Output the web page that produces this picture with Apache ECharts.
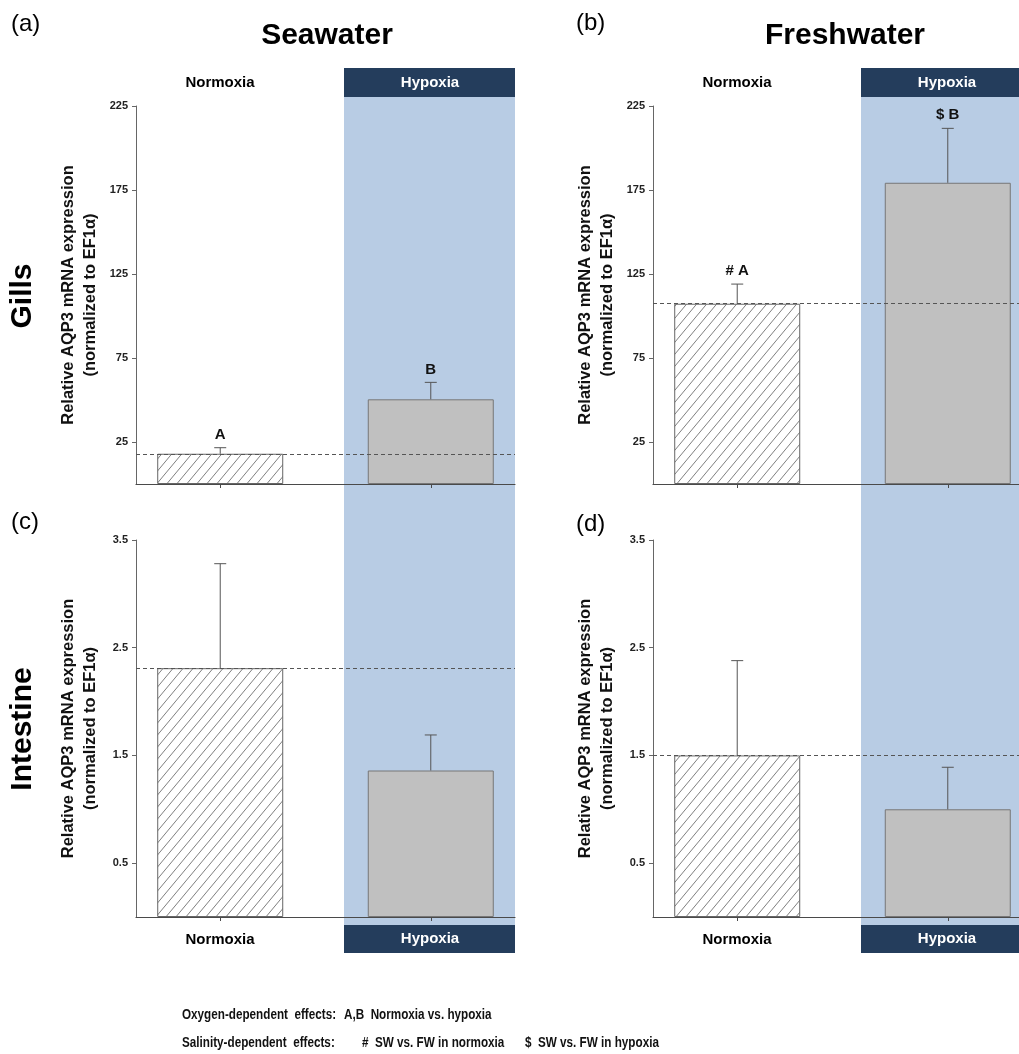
<!DOCTYPE html>
<html><head><meta charset="utf-8">
<script src="https://cdn.jsdelivr.net/npm/echarts@6.0.0/dist/echarts.min.js"></script>
<style>html,body{margin:0;padding:0;background:#fff}#c{width:1019px;height:1054px}</style>
</head><body><div id="c"></div>
<script>
// ---- data ----
const categories = ['Normoxia', 'Hypoxia'];
const xPositions = [1, 2];
const gillsSW = [18.0, 50.4];
const gillsSWSem = [3.6, 10.1];
const gillsSWSig = ['A', 'B'];
const gillsFW = [107.3, 179.3];
const gillsFWSem = [11.7, 32.4];
const gillsFWSig = ['# A', '$ B'];
const intSW = [2.31, 1.36];
const intSWSem = [0.97, 0.33];
const intSWSig = ['', ''];
const intFW = [1.50, 1.00];
const intFWSem = [0.88, 0.39];
const intFWSig = ['', ''];
const gillsTicks = [25, 75, 125, 175, 225];
const intTicks = [0.5, 1.5, 2.5, 3.5];
const yTitle = 'Relative AQP3 mRNA expression\n(normalized to EF1\u03B1)';

// ---- style helpers ----
const FONT = '"Liberation Sans", Arial, sans-serif';
const NAVY = '#243d5c';
const BAND = '#b8cce4';

function hatchCanvas() {
  const w = 10, h = 12;
  const c = document.createElement('canvas');
  c.width = w; c.height = h;
  const g = c.getContext('2d');
  g.fillStyle = '#ffffff'; g.fillRect(0, 0, w, h);
  g.strokeStyle = '#707070'; g.lineWidth = 0.9;
  g.beginPath();
  g.moveTo(0, h); g.lineTo(w, 0);
  g.moveTo(-w, h); g.lineTo(0, 0);
  g.moveTo(w, h); g.lineTo(2 * w, 0);
  g.stroke();
  return c;
}
const hatch = { image: hatchCanvas(), repeat: 'repeat' };

const AXIS_W = 379, X_MIN = 0.6, X_SPAN = 1.8, CANVAS_W = 1019;
const panels = [
  { left: 136, top: 106, height: 378, max: 225, ticks: gillsTicks, vals: gillsSW, sem: gillsSWSem, sig: gillsSWSig },
  { left: 653, top: 106, height: 378, max: 225, ticks: gillsTicks, vals: gillsFW, sem: gillsFWSem, sig: gillsFWSig },
  { left: 136, top: 540, height: 377, max: 3.5, ticks: intTicks, vals: intSW, sem: intSWSem, sig: intSWSig },
  { left: 653, top: 540, height: 377, max: 3.5, ticks: intTicks, vals: intFW, sem: intFWSem, sig: intFWSig }
];

const grid = [], xAxis = [], yAxis = [], series = [];
panels.forEach((p, i) => {
  // right-hand panels are cut by the page edge: keep the same scale, shorten the visible width
  const w = Math.min(AXIS_W, CANVAS_W - p.left);
  const xMax = X_MIN + X_SPAN * w / AXIS_W;
  grid.push({ left: p.left, top: p.top, width: w, height: p.height, containLabel: false, outerBoundsMode: 'none' });
  xAxis.push({
    type: 'value', gridIndex: i, min: X_MIN, max: xMax,
    axisLine: { show: true, lineStyle: { color: '#4a4a4a', width: 1.2 } },
    axisTick: { show: true, customValues: xPositions, length: 4, inside: false, lineStyle: { color: '#4a4a4a' } },
    axisLabel: { show: false }, splitLine: { show: false }
  });
  yAxis.push({
    type: 'value', gridIndex: i, min: 0, max: p.max,
    axisLine: { show: true, onZero: false, lineStyle: { color: '#666', width: 1 } },
    axisTick: { show: true, customValues: p.ticks, length: 4, lineStyle: { color: '#666' } },
    axisLabel: { customValues: p.ticks, fontFamily: FONT, fontWeight: 'bold', fontSize: 11, color: '#222', margin: 8 },
    splitLine: { show: false },
    name: yTitle, nameLocation: 'middle', nameRotate: 90, nameGap: 35,
    nameTextStyle: { fontFamily: FONT, fontWeight: 'bold', fontSize: 16.5, lineHeight: 22, color: '#111', align: 'center' }
  });
  series.push({
    type: 'bar', xAxisIndex: i, yAxisIndex: i, barWidth: 126, z: 2,
    data: p.vals.map((v, k) => ({
      value: [xPositions[k], v],
      itemStyle: k === 0
        ? { color: hatch, borderColor: '#666', borderWidth: 1 }
        : { color: '#c0c0c0', borderColor: '#777', borderWidth: 1 }
    })),
    markLine: {
      silent: true, symbol: 'none', label: { show: false },
      lineStyle: { color: '#555', type: [4, 3], width: 1 },
      data: [{ yAxis: p.vals[0] }]
    }
  });
  const sig = p.sig;
  series.push({
    type: 'custom', xAxisIndex: i, yAxisIndex: i, z: 3, clip: false,
    data: p.vals.map((v, k) => [xPositions[k], v, p.sem[k]]),
    renderItem: (params, api) => {
      const x = api.value(0), m = api.value(1), s = api.value(2);
      const a = api.coord([x, m]), b = api.coord([x, m + s]);
      const st = { stroke: '#555', lineWidth: 1 };
      const ch = [
        { type: 'line', shape: { x1: a[0], y1: a[1], x2: b[0], y2: b[1] }, style: st },
        { type: 'line', shape: { x1: b[0] - 6, y1: b[1], x2: b[0] + 6, y2: b[1] }, style: st }
      ];
      const t = sig[params.dataIndex];
      if (t) ch.push({ type: 'text', x: b[0], y: b[1] - 13,
        style: { text: t, align: 'center', verticalAlign: 'middle', font: 'bold 15px ' + FONT, fill: '#111' } });
      return { type: 'group', children: ch };
    }
  });
});

// ---- decorations (layout only) ----
function txt(x, y, text, font, styleExtra, props) {
  const el = { type: 'text', x: x, y: y, z: 10,
    style: Object.assign({ text: text, font: font, fill: '#000', align: 'center', verticalAlign: 'middle' }, styleExtra || {}) };
  return Object.assign(el, props || {});
}
const graphic = [];
[[344, 171], [861, 170]].forEach(([bx, bw]) => {
  graphic.push({ type: 'rect', z: -10, shape: { x: bx, y: 97, width: bw, height: 828 }, style: { fill: BAND } });
  graphic.push({ type: 'rect', z: 5, shape: { x: bx, y: 68, width: bw, height: 29 }, style: { fill: NAVY } });
  graphic.push({ type: 'rect', z: 5, shape: { x: bx, y: 925, width: bw, height: 28 }, style: { fill: NAVY } });
});
const hdr = 'bold 15px ' + FONT;
const white = { fill: '#fff' };
graphic.push(txt(220, 83, categories[0], hdr));
graphic.push(txt(430, 83, categories[1], hdr, white));
graphic.push(txt(737, 83, categories[0], hdr));
graphic.push(txt(947, 83, categories[1], hdr, white));
graphic.push(txt(220, 940, categories[0], hdr));
graphic.push(txt(430, 939, categories[1], hdr, white));
graphic.push(txt(737, 940, categories[0], hdr));
graphic.push(txt(947, 939, categories[1], hdr, white));

graphic.push(txt(327, 36, 'Seawater', 'bold 30px ' + FONT));
graphic.push(txt(845, 36, 'Freshwater', 'bold 30px ' + FONT));
graphic.push(txt(23, 296, 'Gills', 'bold 30px ' + FONT, null, { rotation: Math.PI / 2 }));
graphic.push(txt(23, 729, 'Intestine', 'bold 30px ' + FONT, null, { rotation: Math.PI / 2 }));

const pl = '24px ' + FONT;
const leftA = { align: 'left' };
graphic.push(txt(11, 24, '(a)', pl, leftA));
graphic.push(txt(576, 23, '(b)', pl, leftA));
graphic.push(txt(11, 522, '(c)', pl, leftA));
graphic.push(txt(576, 524, '(d)', pl, leftA));

const ft = 'bold 15px ' + FONT;
const foot = (x, y, t) => txt(x, y, t, ft, Object.assign({ fill: '#111' }, leftA), { scaleX: 0.78 });
graphic.push(foot(182, 1015, 'Oxygen-dependent  effects:'));
graphic.push(foot(344, 1015, 'A,B  Normoxia vs. hypoxia'));
graphic.push(foot(182, 1043, 'Salinity-dependent  effects:'));
graphic.push(foot(362, 1043, '#  SW vs. FW in normoxia'));
graphic.push(foot(525, 1043, '$  SW vs. FW in hypoxia'));

const chart = echarts.init(document.getElementById('c'), null, { renderer: 'canvas' });
chart.setOption({ animation: false, backgroundColor: '#fff', grid, xAxis, yAxis, series, graphic });
</script></body></html>
